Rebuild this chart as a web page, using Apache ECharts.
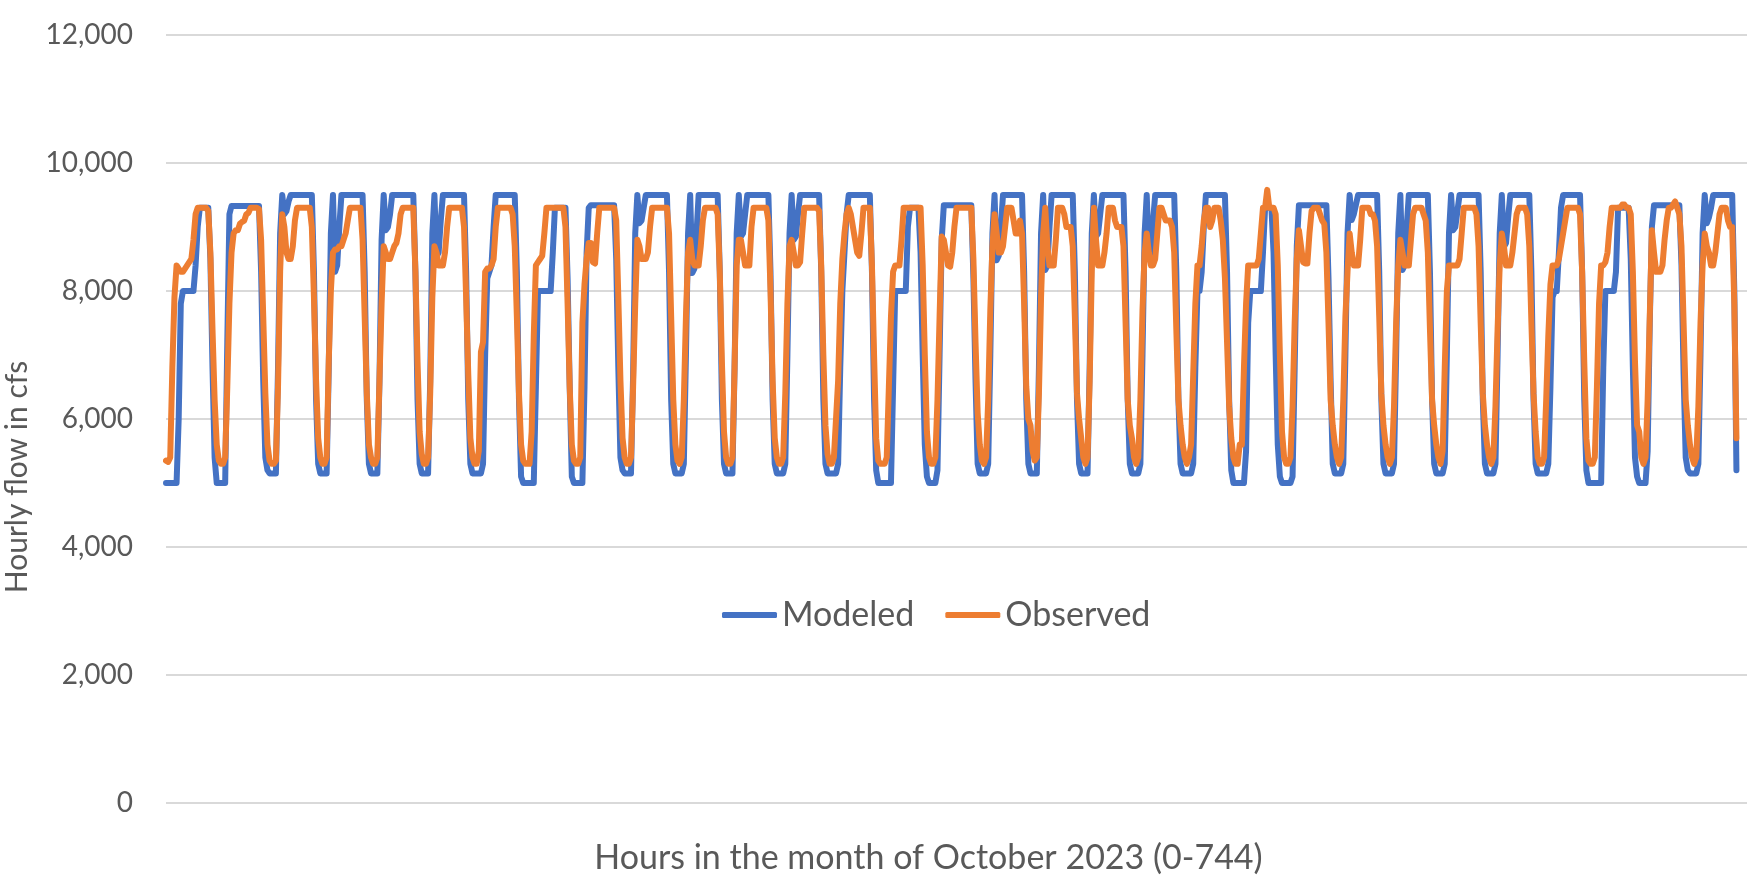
<!DOCTYPE html>
<html>
<head>
<meta charset="utf-8">
<script src="https://cdn.jsdelivr.net/npm/echarts@6/dist/echarts.min.js"></script>
<style>
html,body{margin:0;padding:0;background:#ffffff;}
#chart{width:1754px;height:895px;}
</style>
</head>
<body>
<div id="chart"></div>
<script>
// Hourly flow (cfs), October 2023, hour 0..743 — one row per day
const modeled = [
5000,5000,5000,5000,5000,5000,6000,7800,8000,8000,8000,8000,8000,8000,8400,9000,9300,9300,9300,9300,9300,8500,6800,5400,
5000,5000,5000,5000,5000,7200,9200,9330,9330,9330,9330,9330,9330,9330,9330,9330,9330,9330,9330,9330,9330,8300,6600,5400,
5200,5150,5150,5150,5150,6800,8900,9500,9200,9250,9400,9500,9500,9500,9500,9500,9500,9500,9500,9500,9500,9500,8300,6300,
5300,5150,5150,5150,5150,6800,8900,9500,8300,8400,9000,9500,9500,9500,9500,9500,9500,9500,9500,9500,9500,9500,8300,6300,
5300,5150,5150,5150,5150,6600,8800,9500,8950,9000,9200,9500,9500,9500,9500,9500,9500,9500,9500,9500,9500,9500,8300,6300,
5300,5150,5150,5150,5150,6600,8900,9500,8540,8600,9100,9500,9500,9500,9500,9500,9500,9500,9500,9500,9500,9500,8300,6300,
5300,5150,5150,5150,5150,5150,5300,7000,8200,8300,8400,9000,9500,9500,9500,9500,9500,9500,9500,9500,9500,9500,8300,6300,
5100,5000,5000,5000,5000,5000,5000,6500,8000,8000,8000,8000,8000,8000,8000,8600,9300,9300,9300,9300,9300,9300,8200,6500,
5100,5000,5000,5000,5000,5000,6500,8600,9300,9340,9340,9340,9340,9340,9340,9340,9340,9340,9340,9340,9340,8500,6800,5400,
5200,5150,5150,5150,5150,6700,8900,9500,9060,9100,9300,9500,9500,9500,9500,9500,9500,9500,9500,9500,9500,9500,8300,6300,
5300,5150,5150,5150,5150,5300,7000,8900,9500,8280,8350,8900,9500,9500,9500,9500,9500,9500,9500,9500,9500,9500,8300,6300,
5300,5150,5150,5150,5150,6800,8900,9500,8850,8900,9200,9500,9500,9500,9500,9500,9500,9500,9500,9500,9500,9500,8300,6300,
5300,5150,5150,5150,5150,5300,7000,8900,9500,8800,8850,9200,9500,9500,9500,9500,9500,9500,9500,9500,9500,9500,8300,6300,
5300,5150,5150,5150,5150,5150,5300,6800,8000,8600,9200,9500,9500,9500,9500,9500,9500,9500,9500,9500,9500,9500,8300,6300,
5200,5000,5000,5000,5000,5000,5000,5000,6500,8000,8000,8000,8000,8000,8000,9000,9300,9300,9300,9300,9300,8600,7000,5600,
5100,5000,5000,5000,5000,5200,7000,8800,9340,9340,9340,9340,9340,9340,9340,9340,9340,9340,9340,9340,9340,9340,8200,6600,
5300,5150,5150,5150,5150,5300,7000,8900,9500,8480,8550,9000,9500,9500,9500,9500,9500,9500,9500,9500,9500,9500,8300,6300,
5300,5150,5150,5150,5150,6800,8900,9500,8330,8400,9000,9500,9500,9500,9500,9500,9500,9500,9500,9500,9500,9500,8300,6300,
5300,5150,5150,5150,5150,6800,8900,9500,8850,8900,9200,9500,9500,9500,9500,9500,9500,9500,9500,9500,9500,9500,8300,6300,
5300,5150,5150,5150,5150,5300,7000,8900,9500,8540,8600,9100,9500,9500,9500,9500,9500,9500,9500,9500,9500,9500,8300,6300,
5300,5150,5150,5150,5150,5150,5300,6800,8000,8000,8300,9000,9500,9500,9500,9500,9500,9500,9500,9500,9500,9500,8300,6300,
5200,5000,5000,5000,5000,5000,5000,5500,7500,8000,8000,8000,8000,8000,8000,8600,9300,9300,9300,9300,8600,7000,5600,5100,
5000,5000,5000,5000,5000,5100,6800,8700,9340,9340,9340,9340,9340,9340,9340,9340,9340,9340,9340,9340,9340,9340,8200,6600,
5300,5150,5150,5150,5150,5300,7000,8900,9500,9110,9200,9350,9500,9500,9500,9500,9500,9500,9500,9500,9500,9500,8300,6300,
5300,5150,5150,5150,5150,5300,7000,8900,9500,8330,8400,9000,9500,9500,9500,9500,9500,9500,9500,9500,9500,9500,8300,6300,
5300,5150,5150,5150,5150,5300,7000,8900,9500,8950,9000,9250,9500,9500,9500,9500,9500,9500,9500,9500,9500,9500,8300,6300,
5300,5150,5150,5150,5150,5300,7000,8900,9500,8690,8750,9150,9500,9500,9500,9500,9500,9500,9500,9500,9500,9500,8300,6300,
5300,5150,5150,5150,5150,5150,5300,6500,7900,8000,8000,8600,9300,9500,9500,9500,9500,9500,9500,9500,9500,9500,8300,6300,
5200,5000,5000,5000,5000,5000,5000,5000,6800,8000,8000,8000,8000,8000,8300,9300,9300,9300,9300,9300,9300,8500,6800,5400,
5100,5000,5000,5000,5000,5500,7500,9000,9340,9340,9340,9340,9340,9340,9340,9340,9340,9340,9340,9340,9340,8400,6700,5400,
5200,5150,5150,5150,5150,5300,7000,8900,9500,9060,9150,9300,9500,9500,9500,9500,9500,9500,9500,9500,9500,9500,8000,5200
];
const observed = [
5350,5330,5400,6800,7900,8400,8350,8300,8300,8350,8400,8450,8500,8800,9200,9300,9300,9300,9300,9300,9250,8600,7400,6300,
5600,5350,5300,5300,5400,6500,7800,8600,8900,8950,8950,9050,9080,9100,9200,9220,9300,9300,9300,9300,9280,8800,7600,6400,
5600,5350,5300,5300,5350,6500,8300,9200,9000,8600,8500,8500,8700,9100,9300,9300,9300,9300,9300,9300,9300,9000,7900,6600,
5700,5400,5300,5300,5400,6900,8000,8600,8650,8650,8700,8700,8800,8900,9100,9300,9300,9300,9300,9300,9300,8800,7600,6400,
5600,5400,5300,5300,5400,6600,7800,8700,8600,8500,8500,8600,8700,8750,8900,9200,9300,9300,9300,9300,9300,9300,8300,6900,
5800,5450,5300,5300,5400,6400,7900,8700,8600,8400,8400,8400,8600,9000,9300,9300,9300,9300,9300,9300,9300,9000,7900,6700,
5700,5400,5300,5300,5500,7050,7200,8300,8350,8350,8400,8500,9000,9300,9300,9300,9300,9300,9300,9300,9200,8700,7600,6400,
5600,5350,5300,5300,5300,5800,7300,8400,8450,8500,8550,8900,9300,9300,9300,9300,9300,9300,9300,9300,9300,9000,7800,6500,
5600,5350,5300,5300,5400,7500,8100,8500,8750,8750,8450,8430,8900,9300,9300,9300,9300,9300,9300,9300,9300,9100,7900,6600,
5700,5400,5300,5300,5400,6500,7800,8800,8700,8500,8500,8500,8600,9000,9300,9300,9300,9300,9300,9300,9300,9300,8900,7600,
6300,5600,5350,5300,5400,6300,7600,8600,8800,8500,8400,8400,8400,8700,9100,9300,9300,9300,9300,9300,9300,9200,8300,6900,
5800,5400,5300,5300,5400,6800,8400,8800,8800,8600,8400,8400,8400,9000,9300,9300,9300,9300,9300,9300,9300,9100,8000,6600,
5700,5400,5300,5300,5400,6400,7800,8700,8800,8600,8400,8400,8450,8900,9300,9300,9300,9300,9300,9300,9300,9250,8400,7000,
5900,5450,5300,5300,5400,6000,6600,7800,8500,8900,9200,9300,9200,9000,8800,8600,8550,8900,9300,9300,9300,9300,8400,7000,
5700,5350,5300,5300,5300,5400,6500,7600,8300,8400,8400,8400,8800,9300,9300,9300,9300,9300,9300,9300,9300,9300,8400,7000,
5800,5400,5300,5300,5400,6300,7600,8850,8800,8600,8400,8380,8600,9000,9300,9300,9300,9300,9300,9300,9300,9300,8500,7200,
6100,5600,5350,5300,5400,6300,7700,8700,9200,8900,8600,8600,8700,9000,9300,9300,9300,9100,8900,8900,9100,8900,7800,6500,
6000,5900,5500,5350,5400,6400,7900,8900,9300,8700,8400,8400,8400,8800,9300,9300,9300,9200,9000,9000,9000,8700,7600,6400,
6000,5700,5400,5300,5400,6600,8300,9300,8800,8400,8400,8400,8600,8900,9300,9300,9300,9100,9000,9000,9000,8700,7500,6300,
5900,5700,5400,5300,5400,6300,7700,8600,8900,8600,8400,8400,8500,8900,9300,9300,9200,9100,9100,9100,9000,8600,7400,6300,
5900,5600,5400,5300,5400,5600,6700,7800,8400,8400,8700,9100,9300,9300,9000,9100,9300,9300,9300,9100,8800,8200,7200,6200,
5700,5400,5300,5300,5600,5600,6800,7800,8400,8400,8400,8400,8400,8500,8900,9300,9300,9580,9300,9300,9300,9200,8400,7000,
5800,5400,5300,5300,5400,6200,7500,8500,8950,8700,8450,8430,8430,8900,9250,9300,9300,9300,9200,9100,9050,8600,7500,6300,
5900,5600,5400,5300,5400,6300,7600,8300,8900,8600,8400,8400,8400,8800,9300,9300,9300,9300,9200,9200,9100,8700,7600,6400,
5900,5600,5400,5300,5400,6200,7500,8400,8800,8600,8400,8400,8400,8800,9200,9300,9300,9300,9300,9200,9100,8600,7400,6300,
5900,5600,5400,5300,5500,6800,8000,8400,8400,8400,8400,8400,8500,8900,9300,9300,9300,9300,9300,9300,9200,8700,7500,6400,
5900,5600,5400,5300,5400,6200,7400,8400,8900,8700,8400,8400,8400,8600,8900,9200,9300,9300,9300,9300,9200,8700,7500,6400,
5800,5400,5300,5300,5400,6300,7300,8100,8400,8400,8400,8500,8700,8900,9100,9300,9300,9300,9300,9300,9300,9200,8300,6900,
5700,5350,5300,5300,5400,6500,7800,8400,8400,8450,8600,9000,9300,9300,9300,9300,9300,9350,9350,9300,9300,9200,8300,6900,
5900,5800,5400,5300,5400,6300,7600,8950,8600,8300,8300,8300,8400,8800,9100,9300,9300,9350,9400,9300,9200,8700,7500,6300,
5900,5600,5400,5300,5400,6200,7500,8400,8900,8700,8600,8400,8400,8600,8900,9200,9300,9300,9300,9100,9000,9000,7800,5700
];
const seriesNames = ['Modeled', 'Observed'];
const yTicks = [0, 2000, 4000, 6000, 8000, 10000, 12000];
const xTitle = 'Hours in the month of October 2023 (0-744)';
const yTitle = 'Hourly flow in cfs';

const chart = echarts.init(document.getElementById('chart'), null, {renderer: 'canvas'});
const toPairs = arr => arr.map((v, i) => [i, v]);
const font = 'Lato, "Open Sans", sans-serif';
const option = {
  animation: false,
  backgroundColor: '#ffffff',
  grid: {left: 166, right: 7, top: 35, bottom: 92, containLabel: false},
  legend: {
    data: seriesNames,
    left: 717, top: 593,
    itemWidth: 55, itemHeight: 6, itemGap: 31,
    icon: 'roundRect',
    textStyle: {fontFamily: font, fontSize: 34, color: '#595959'}
  },
  graphic: [{
    type: 'text', x: 17, y: 477, rotation: Math.PI / 2,
    style: {text: yTitle, fontFamily: font, fontSize: 30, fill: '#595959',
            textAlign: 'center', textVerticalAlign: 'middle'}
  }],
  xAxis: {
    type: 'value', min: 0, max: 748,
    axisLine: {show: false}, axisTick: {show: false}, axisLabel: {show: false}, splitLine: {show: false},
    name: xTitle, nameLocation: 'middle', nameGap: 38,
    nameTextStyle: {fontFamily: font, fontSize: 34, color: '#595959', padding: [0, 56, 0, 0]}
  },
  yAxis: {
    type: 'value', min: yTicks[0], max: yTicks[yTicks.length - 1], interval: 2000,
    axisLine: {show: false}, axisTick: {show: false},
    axisLabel: {
      margin: 33, fontFamily: font, fontSize: 28, color: '#595959',
      formatter: v => v.toLocaleString('en-US')
    },
    splitLine: {lineStyle: {color: '#d9d9d9', width: 2}}
  },
  series: [
    {name: seriesNames[0], type: 'line', data: toPairs(modeled), showSymbol: false, symbol: 'none',
     color: '#4472C4', lineStyle: {width: 6, color: '#4472C4', join: 'round', cap: 'round'}},
    {name: seriesNames[1], type: 'line', data: toPairs(observed), showSymbol: false, symbol: 'none',
     color: '#ED7D31', lineStyle: {width: 6, color: '#ED7D31', join: 'round', cap: 'round'}}
  ]
};
chart.setOption(option);
</script>
</body>
</html>
